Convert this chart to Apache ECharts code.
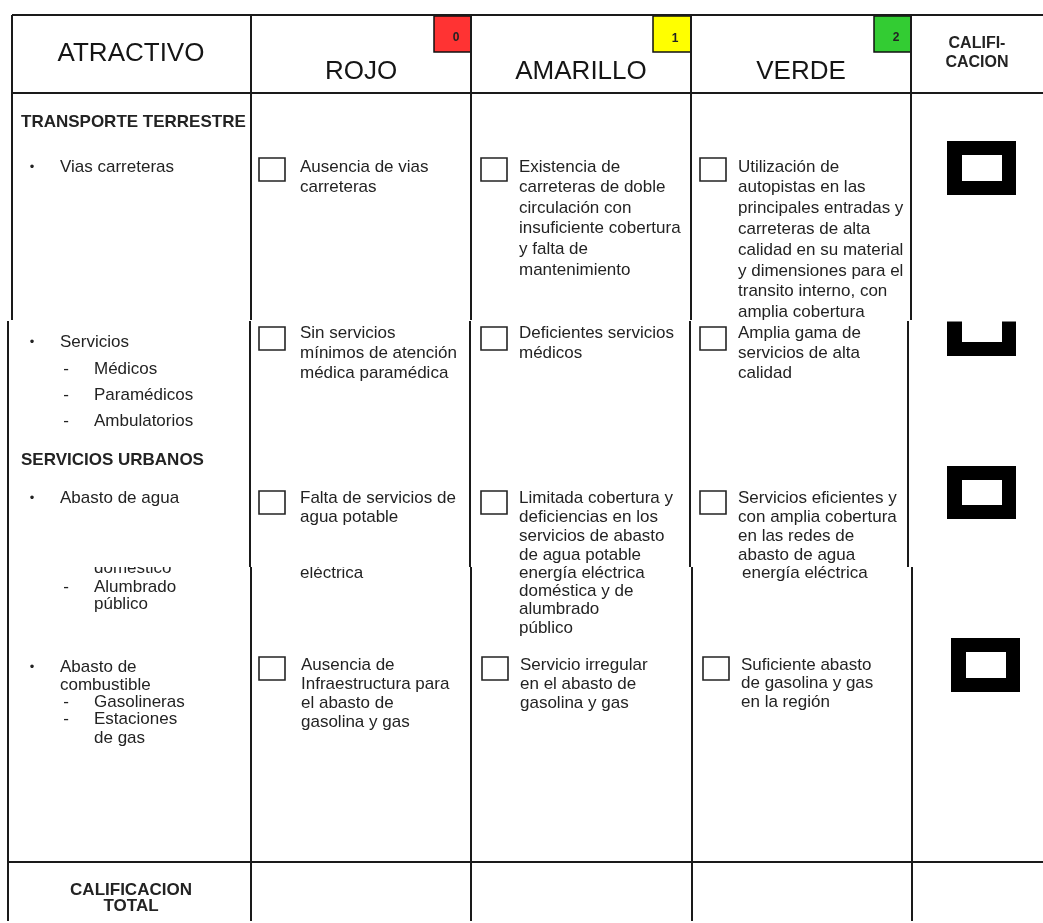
<!DOCTYPE html>
<html><head><meta charset="utf-8">
<script src="https://cdn.jsdelivr.net/npm/echarts@6/dist/echarts.min.js"></script>
<style>html,body{margin:0;padding:0;background:#fff}#c{width:1043px;height:923px}</style>
</head><body><div id="c"></div>
<script>
// ---------- DATA ----------
const headerLabels = ['ATRACTIVO', 'ROJO', 'AMARILLO', 'VERDE'];
const ratingHeader = ['CALIFI-', 'CACION'];
const scoreValues = ['0', '1', '2'];
const sectionTitles = ['TRANSPORTE TERRESTRE', 'SERVICIOS URBANOS'];
const attractiveItems = [
  [['•', 'Vias carreteras', 1]],
  [['•', 'Servicios', 1], ['-', 'Médicos', 2], ['-', 'Paramédicos', 2], ['-', 'Ambulatorios', 2]],
  [['•', 'Abasto de agua', 1]],
  [['', 'doméstico', 2], ['-', 'Alumbrado', 2], ['', 'público', 2]],
  [['•', 'Abasto de', 1], ['', 'combustible', 1], ['-', 'Gasolineras', 2], ['-', 'Estaciones', 2], ['', 'de gas', 2]]
];
const rojoTexts = [
  ['Ausencia de vias', 'carreteras'],
  ['Sin servicios', 'mínimos de atención', 'médica paramédica'],
  ['Falta de servicios de', 'agua potable'],
  ['eléctrica'],
  ['Ausencia de', 'Infraestructura para', 'el abasto de', 'gasolina y gas']
];
const amarilloTexts = [
  ['Existencia de', 'carreteras de doble', 'circulación con', 'insuficiente cobertura', 'y falta de', 'mantenimiento'],
  ['Deficientes servicios', 'médicos'],
  ['Limitada cobertura y', 'deficiencias en los', 'servicios de abasto', 'de agua potable'],
  ['energía eléctrica', 'doméstica y de', 'alumbrado', 'público'],
  ['Servicio irregular', 'en el abasto de', 'gasolina y gas']
];
const verdeTexts = [
  ['Utilización de', 'autopistas en las', 'principales entradas y', 'carreteras de alta', 'calidad en su material', 'y dimensiones para el', 'transito interno, con', 'amplia cobertura'],
  ['Amplia gama de', 'servicios de alta', 'calidad'],
  ['Servicios eficientes y', 'con amplia cobertura', 'en las redes de', 'abasto de agua'],
  ['energía eléctrica'],
  ['Suficiente abasto', 'de gasolina y gas', 'en la región']
];
const checkboxRows = [0, 1, 2, 4];
const ratedRows = [0, 1, 2, 4];
const totalLabel = ['CALIFICACION', 'TOTAL'];

// ---------- LAYOUT / STYLE ----------
const W = 1043, H = 923;
const FONT = '"Liberation Sans", Arial, Helvetica, sans-serif';
const INK = '#232323';
const LINE = '#1a1a1a';
const scoreColors = ['#ff3333', '#ffff00', '#33cc33'];
const scoreBoxes = [[434, 16, 471, 52], [653, 16, 691, 52], [874, 16, 911, 52]];
const scoreLabelPos = [[456, 38], [675, 39], [896, 38]];
const headerPos = [[131, 54], [361, 72], [581, 72], [801, 72]];
const sectionPos = [[21, 122], [21, 460]];
const rowLayout = [
  { attrY: [167, 167], y: [167, 167, 167], lh: [20.5, 20.6, 20.8], box: 158, xs: [300, 519, 738], bx: [259, 481, 700] },
  { attrY: [342, 369, 395, 421], y: [333, 333, 333], lh: [20, 20, 20], box: 327, xs: [300, 519, 738], bx: [259, 481, 700] },
  { attrY: [498], y: [498, 498, 498], lh: [19.3, 19.2, 19.2], box: 491, xs: [300, 519, 738], bx: [259, 481, 700] },
  { attrY: [568, 587, 604], y: [573, 573, 573], lh: [18, 18.3, 18], box: null, xs: [300, 519, 742], bx: null },
  { attrY: [667, 685, 702, 719, 738], y: [665, 665, 665], lh: [19, 19, 18.5], box: 657, xs: [301, 520, 741], bx: [259, 482, 703] }
];
const frameLayout = {
  0: [947, 141, 1016, 195],
  1: [947, 302, 1016, 356],
  2: [947, 466, 1016, 519],
  4: [951, 638, 1020, 692]
};
const vSegments = [
  [15, 320, [12, 251, 471, 691, 911]],
  [321, 567, [8, 250, 470, 690, 908]],
  [567, 921, [8, 251, 471, 692, 912]]
];
const hSegments = [[15, 12, W], [93, 12, W], [862, 8, W]];

// ---------- BUILD BLOCKS ----------
const blocks = [];
function T(x, y, text, o) { blocks.push(Object.assign({ k: 'text', x, y, text }, o || {})); }
function R(x0, y0, x1, y1, o) { blocks.push(Object.assign({ k: 'rect', x0, y0, x1, y1 }, o || {})); }
function L(x0, y0, x1, y1) { blocks.push({ k: 'line', x0, y0, x1, y1, z2: 30 }); }

// headers
headerLabels.forEach((h, i) => T(headerPos[i][0], headerPos[i][1], h, { size: 26, align: 'center', color: '#151515' }));
ratingHeader.forEach((h, i) => T(977, 44 + i * 18.5, h, { size: 16, bold: true, align: 'center' }));
scoreValues.forEach((s, i) => {
  const b = scoreBoxes[i];
  R(b[0], b[1], b[2], b[3], { fill: scoreColors[i], stroke: '#111', lw: 1.5, z2: 8 });
  T(scoreLabelPos[i][0], scoreLabelPos[i][1], s, { size: 12, bold: true, align: 'center', z2: 9 });
});
sectionTitles.forEach((s, i) => T(sectionPos[i][0], sectionPos[i][1], s, { size: 17, bold: true }));

// attractive column
attractiveItems.forEach((items, r) => {
  const lay = rowLayout[r];
  items.forEach((it, j) => {
    const y = lay.attrY[j];
    const mx = it[2] === 1 ? 32 : 66, tx = it[2] === 1 ? 60 : 94;
    if (it[0]) T(mx, y, it[0], { align: 'center', size: it[0] === '•' ? 13 : 17 });
    T(tx, y, it[1]);
  });
});
// option columns
[rojoTexts, amarilloTexts, verdeTexts].forEach((col, c) => {
  col.forEach((lines, r) => {
    const lay = rowLayout[r];
    lines.forEach((ln, j) => T(lay.xs[c], lay.y[c] + j * lay.lh[c], ln));
  });
});
// checkboxes
checkboxRows.forEach(r => {
  const lay = rowLayout[r];
  lay.bx.forEach(x => R(x, lay.box, x + 26, lay.box + 23, { fill: '#fff', stroke: INK, lw: 1.6, z2: 8 }));
});
// rating frames
ratedRows.forEach(r => {
  const f = frameLayout[r];
  R(f[0], f[1], f[2], f[3], { fill: '#000', z2: 5 });
  R(f[0] + 15, f[1] + 14, f[2] - 14, f[3] - 14, { fill: '#fff', z2: 6 });
});
// splice masks (page joins)
R(935, 296, 1035, 321.5, { fill: '#fff', z2: 20 });
R(40, 552, 248, 567, { fill: '#fff', z2: 20 });
R(290, 560, 466, 567, { fill: '#fff', z2: 20 });
// total label
totalLabel.forEach((s, i) => T(131, 890 + i * 16, s, { size: 17, bold: true, align: 'center' }));
// grid lines
hSegments.forEach(h => L(h[1], h[0], h[2], h[0]));
vSegments.forEach(s => s[2].forEach(x => L(x, s[0], x, s[1])));

// ---------- CHART ----------
const chart = echarts.init(document.getElementById('c'), null, { renderer: 'canvas' });
chart.setOption({
  backgroundColor: '#fff',
  animation: false,
  grid: { left: 0, right: 0, top: 0, bottom: 0 },
  xAxis: { type: 'value', min: 0, max: W, show: false },
  yAxis: { type: 'value', min: 0, max: H, inverse: true, show: false },
  series: [{
    type: 'custom',
    coordinateSystem: 'cartesian2d',
    clip: false,
    silent: true,
    data: blocks.map((b, i) => [i, 0]),
    renderItem: function (params, api) {
      const b = blocks[params.dataIndex];
      const p = (x, y) => api.coord([x, y]);
      if (b.k === 'text') {
        const q = p(b.x, b.y);
        return {
          type: 'text', x: q[0], y: q[1], z2: b.z2 || 10,
          style: {
            text: b.text, fill: b.color || INK, fontFamily: FONT,
            fontSize: b.size || 17, fontWeight: b.bold ? 'bold' : 'normal',
            align: b.align || 'left', verticalAlign: 'middle',
            textAlign: b.align || 'left', textVerticalAlign: 'middle'
          }
        };
      }
      if (b.k === 'rect') {
        const a = p(b.x0, b.y0), c = p(b.x1, b.y1);
        return {
          type: 'rect', z2: b.z2 || 5,
          shape: { x: a[0], y: a[1], width: c[0] - a[0], height: c[1] - a[1] },
          style: { fill: b.fill || null, stroke: b.stroke || null, lineWidth: b.lw || 0 }
        };
      }
      const a = p(b.x0, b.y0), c = p(b.x1, b.y1);
      return {
        type: 'line', z2: 30,
        shape: { x1: a[0], y1: a[1], x2: c[0], y2: c[1] },
        style: { stroke: LINE, lineWidth: 2 }
      };
    }
  }]
});
</script>
</body></html>
